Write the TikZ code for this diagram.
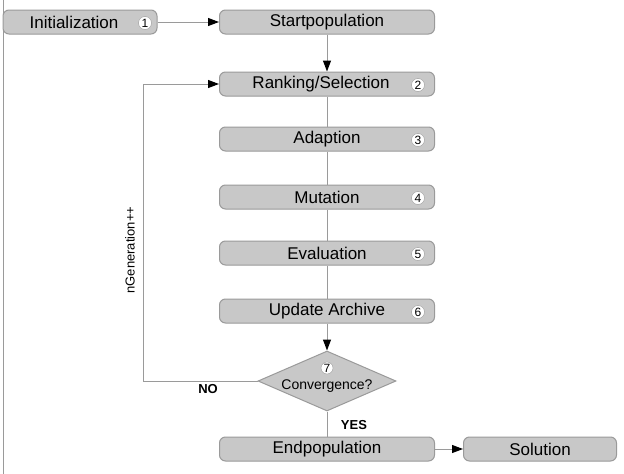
\documentclass[tikz,border=0pt]{standalone}
\usepackage{fontspec}
\setmainfont{Liberation Sans}
\usetikzlibrary{shapes.geometric,arrows.meta}
\definecolor{boxfill}{HTML}{C8C8C8}
\definecolor{boxline}{HTML}{9A9A9A}
\tikzset{
  box/.style={draw=boxline,line width=1pt,fill=boxfill,rounded corners=6pt,minimum height=24pt,inner sep=0pt,font=\fontsize{17}{17}\selectfont},
  num/.style={circle,draw=boxline,fill=white,inner sep=0pt,minimum size=13pt,font=\fontsize{12}{12}\selectfont},
  conn/.style={draw=boxline,line width=1pt},
  arr/.style={conn,-{Triangle[length=11pt,width=8pt,color=black]}},
  lab/.style={font=\fontsize{13}{13}\selectfont\bfseries}
}
\begin{document}
\begin{tikzpicture}[x=1pt,y=-1pt]
\useasboundingbox[fill=white] (0,0) rectangle (624,474);
\draw[boxline,line width=1pt] (3,0) -- (3,474);
\node[box,minimum width=154pt] (init) at (80,22) {\hspace*{-12pt}Initialization};
\node[num] (n1) at (145,23) {1};
\node[box,minimum width=215pt] (start) at (327,22) {Startpopulation};
\node[box,minimum width=215pt] (rank) at (327,84) {\hspace*{-12pt}Ranking/Selection};
\node[num] (n2) at (418,85) {2};
\node[box,minimum width=215pt] (adapt) at (327,139) {Adaption};
\node[num] (n3) at (418,140) {3};
\node[box,minimum width=215pt] (mut) at (327,197) {Mutation};
\node[num] (n4) at (418,198) {4};
\node[box,minimum width=215pt] (eval) at (327,253) {Evaluation};
\node[num] (n5) at (418,254) {5};
\node[box,minimum width=215pt] (upd) at (327,311) {Update Archive};
\node[num] (n6) at (418,312) {6};
\node[diamond,draw=boxline,line width=1pt,fill=boxfill,minimum width=138pt,minimum height=60pt,inner sep=0pt] (conv) at (327,381) {};
\node[num,minimum size=12pt] (n7) at (327,368) {7};
\node[font=\fontsize{14}{14}\selectfont] (convt) at (327,386) {Convergence?};
\node[box,minimum width=215pt] (end) at (327,449) {Endpopulation};
\node[box,minimum width=153pt] (sol) at (540,449) {Solution};
\coordinate (c1) at (143,381);
\coordinate (c2) at (143,84);
\draw[arr] (init) -- (start);
\draw[arr] (start) -- (rank);
\draw[conn] (rank) -- (adapt);
\draw[conn] (adapt) -- (mut);
\draw[conn] (mut) -- (eval);
\draw[conn] (eval) -- (upd);
\draw[arr] (upd) -- (conv);
\draw[conn] (conv) -- (end);
\draw[arr] (end) -- (sol);
\draw[arr] (conv.west) -- (c1) -- (c2) -- (rank.west);
\node[rotate=90,font=\fontsize{13}{13}\selectfont] (ng) at (130,250) {nGeneration++};
\node[lab] (no) at (208,389) {NO};
\node[lab] (yes) at (354,425) {YES};
\end{tikzpicture}
\end{document}
